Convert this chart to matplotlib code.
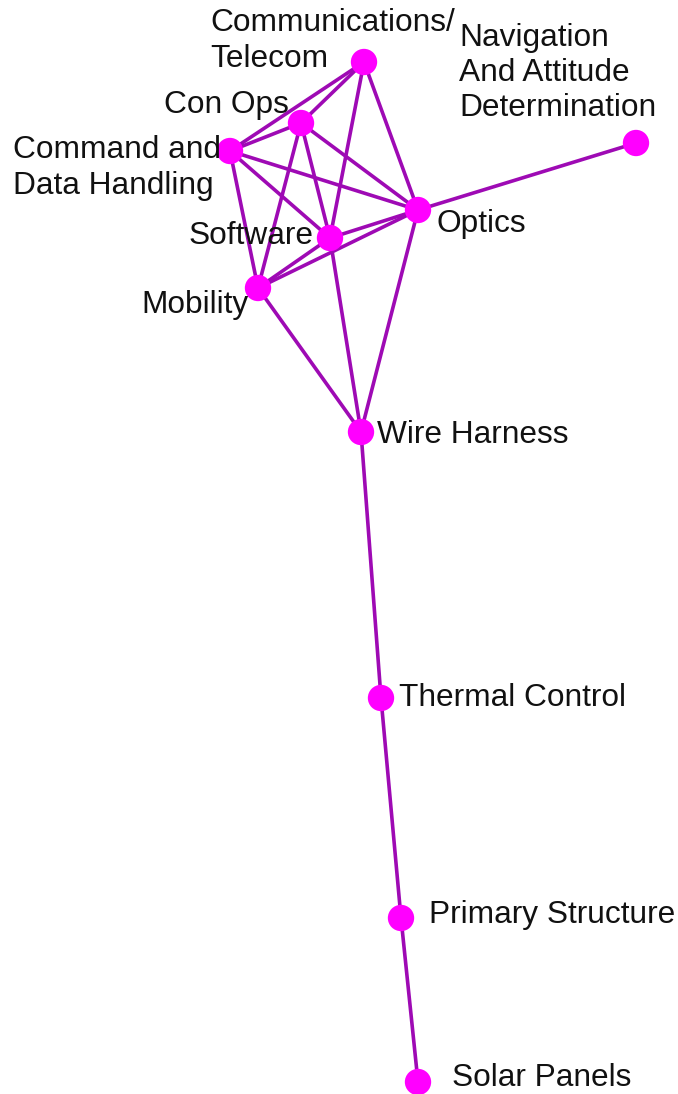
import matplotlib.pyplot as plt

# node positions in picture pixels (x right, y down)
nodes = ['Comm', 'ConOps', 'CDH', 'Software', 'Optics', 'Mobility', 'Nav',
         'Wire', 'Thermal', 'Primary', 'Solar']
node_x = [364, 301, 230, 330, 418, 258, 636, 361, 381, 401, 418]
node_y = [62, 123, 151, 238, 210, 288, 143, 432, 698, 918, 1082]

edges = [('Comm', 'ConOps'), ('Comm', 'CDH'), ('Comm', 'Optics'), ('Comm', 'Software'),
         ('ConOps', 'CDH'), ('ConOps', 'Optics'), ('ConOps', 'Software'), ('ConOps', 'Mobility'),
         ('CDH', 'Optics'), ('CDH', 'Software'), ('CDH', 'Mobility'),
         ('Software', 'Optics'), ('Software', 'Mobility'), ('Optics', 'Mobility'),
         ('Optics', 'Nav'), ('Mobility', 'Wire'), ('Software', 'Wire'), ('Optics', 'Wire'),
         ('Wire', 'Thermal'), ('Thermal', 'Primary'), ('Primary', 'Solar')]

labels = ['Communications/\nTelecom', 'Con Ops', 'Command and\nData Handling', 'Software',
          'Optics', 'Mobility', 'Navigation\nAnd Attitude\nDetermination', 'Wire Harness',
          'Thermal Control', 'Primary Structure', 'Solar Panels']
label_x = [210, 164, 13, 189, 437, 141, 459, 377, 399, 429, 452]
label_y = [41, 105, 168, 236, 224, 305, 73, 435, 698, 915, 1078]

pos = {n: (x, y) for n, x, y in zip(nodes, node_x, node_y)}

fig = plt.figure(figsize=(6.78, 10.94), dpi=100)
ax = fig.add_axes([0, 0, 1, 1])
ax.set_xlim(0, 678)
ax.set_ylim(1094, 0)
ax.axis('off')

for a, b in edges:
    ax.plot([pos[a][0], pos[b][0]], [pos[a][1], pos[b][1]], color='#9E0AB4', lw=2.6,
            solid_capstyle='round', zorder=1)

ax.scatter(node_x, node_y, s=360, color='#FF00FF', edgecolors='none', zorder=2)

for t, x, y in zip(labels, label_x, label_y):
    ax.text(x, y, t, fontsize=22.8, family='Liberation Sans', color='#111111',
            ha='left', va='center', linespacing=1.22, zorder=3)

fig.savefig('out.png', dpi=100)
